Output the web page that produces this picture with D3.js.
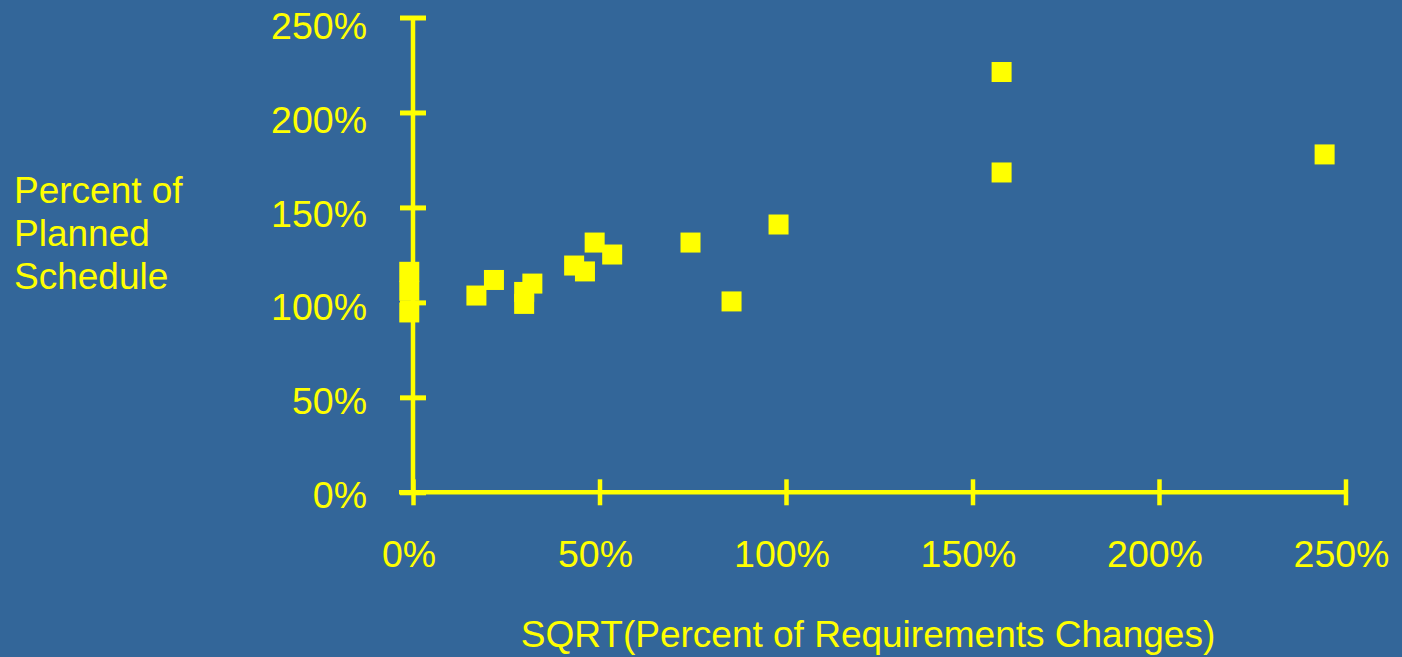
<!DOCTYPE html>
<html>
<head>
<meta charset="utf-8">
<script src="https://cdn.jsdelivr.net/npm/d3@7"></script>
<style>
  html, body { margin: 0; padding: 0; background: #336699; }
  svg { display: block; }
  text { font-family: "Liberation Sans", Arial, sans-serif; fill: #ffff00; }
</style>
</head>
<body>
<svg id="chart" width="1402" height="657"></svg>
<script>
// ---- data ----
const xValues = [-1, -1, -1, 17, 21.7, 29.8, 29.8, 32, 43.2, 46.1, 48.7, 53.4, 74.4, 85.4, 98, 157.8, 157.8, 244.4];
const yValues = [116.1, 106.1, 94.7, 103.6, 111.8, 105.5, 99.2, 109.9, 119.4, 116.3, 131.5, 125.2, 131.5, 100.5, 141, 221.3, 168.4, 177.9];
const xTicks = [0, 50, 100, 150, 200, 250];
const yTicks = [0, 50, 100, 150, 200, 250];
const tickLabel = v => v + "%";
const yTitleLines = ["Percent of", "Planned", "Schedule"];
const xTitle = "SQRT(Percent of Requirements Changes)";

// ---- layout ----
const YELLOW = "#ffff00";
const svg = d3.select("#chart");
const x = d3.scaleLinear().domain([0, 250]).range([413, 1345.5]);
const y = d3.scaleLinear().domain([0, 250]).range([492.3, 17.5]);
// tick label positions in the source sit on a slightly different spacing
const yLab = d3.scaleLinear().domain([0, 250]).range([494, 25.7]);
const xLabShift = -4;

// x axis ticks (crossing the axis line)
const gx = svg.append("g").attr("transform", `translate(0,${y(0) - 13})`)
  .call(d3.axisBottom(x).tickValues(xTicks).tickSize(26).tickSizeOuter(0).tickFormat(""));
gx.select(".domain").remove();
gx.selectAll(".tick line").attr("stroke", YELLOW).attr("stroke-width", 4.5);

// y axis ticks
const gy = svg.append("g").attr("transform", `translate(${x(0) + 13},0)`)
  .call(d3.axisLeft(y).tickValues(yTicks).tickSize(26).tickSizeOuter(0).tickFormat(""));
gy.select(".domain").remove();
gy.selectAll(".tick line").attr("stroke", YELLOW).attr("stroke-width", 5);

// axis lines
svg.append("line")
  .attr("x1", x(0) - 14).attr("x2", x(250))
  .attr("y1", y(0)).attr("y2", y(0))
  .attr("stroke", YELLOW).attr("stroke-width", 4.5);
svg.append("line")
  .attr("x1", x(0)).attr("x2", x(0))
  .attr("y1", y(250)).attr("y2", y(0))
  .attr("stroke", YELLOW).attr("stroke-width", 4.5);

// tick labels
svg.append("g").selectAll("text").data(yTicks).join("text")
  .attr("x", 367).attr("y", d => yLab(d))
  .attr("dy", "0.36em")
  .attr("text-anchor", "end")
  .style("font-size", "37.5px")
  .text(tickLabel);

svg.append("g").selectAll("text").data(xTicks).join("text")
  .attr("x", d => x(d) + xLabShift).attr("y", 567)
  .attr("text-anchor", "middle")
  .style("font-size", "37.5px")
  .text(tickLabel);

// titles
svg.append("g").selectAll("text").data(yTitleLines).join("text")
  .attr("x", 14).attr("y", (d, i) => 203 + i * 43)
  .style("font-size", "37px")
  .text(d => d);

svg.append("text")
  .attr("x", 868).attr("y", 647)
  .attr("text-anchor", "middle")
  .style("font-size", "37px")
  .text(xTitle);

// points
const S = 20;
const pts = xValues.map((v, i) => ({ x: v, y: yValues[i] }));
svg.append("g").selectAll("rect").data(pts).join("rect")
  .attr("x", d => x(d.x) - S / 2)
  .attr("y", d => y(d.y) - S / 2)
  .attr("width", S).attr("height", S)
  .attr("fill", YELLOW);
</script>
</body>
</html>
